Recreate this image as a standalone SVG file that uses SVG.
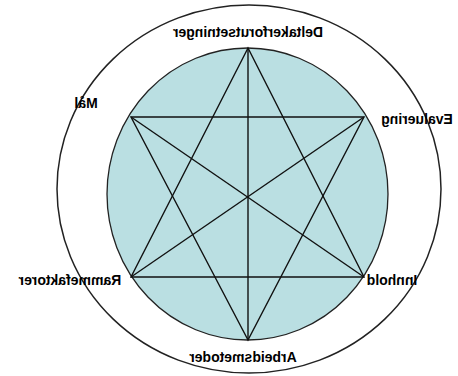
<svg xmlns="http://www.w3.org/2000/svg" width="458" height="376" viewBox="0 0 458 376">
<style>
.lbl{font-family:"Liberation Sans",Arial,sans-serif;font-weight:bold;font-size:14px;fill:#000;text-anchor:middle}
.ln{stroke:#111;stroke-width:1.4;fill:none}
</style>
<rect width="458" height="376" fill="#fff"/>
<g id="outer"><ellipse cx="249" cy="189" rx="192" ry="184" fill="none" stroke="#222" stroke-width="1.5"/></g>
<g id="inner"><ellipse cx="247.5" cy="194" rx="140.5" ry="146" fill="#badfe2" stroke="#222" stroke-width="1.3"/></g>
<g id="connectors">
<polygon class="ln" points="248,48 131,277 364,277"/>
<polygon class="ln" points="248,340 131,117 364,117"/>
<line class="ln" x1="248" y1="48" x2="248" y2="340"/>
<line class="ln" x1="131" y1="117" x2="364" y2="277"/>
<line class="ln" x1="364" y1="117" x2="131" y2="277"/>
</g>
<g id="n-deltaker"><text class="lbl" x="-248" y="37" transform="scale(-1,1)">Deltakerforutsetninger</text></g>
<g id="n-maal"><text class="lbl" x="-86" y="108" transform="scale(-1,1)">Mål</text></g>
<g id="n-evaluering"><text class="lbl" x="-417" y="124" transform="scale(-1,1)">Evaluering</text></g>
<g id="n-rammefaktorer"><text class="lbl" x="-70" y="285" transform="scale(-1,1)">Rammefaktorer</text></g>
<g id="n-innhold"><text class="lbl" x="-392" y="285" transform="scale(-1,1)">Innhold</text></g>
<g id="n-arbeidsmetoder"><text class="lbl" x="-243" y="362" transform="scale(-1,1)">Arbeidsmetoder</text></g>
</svg>
